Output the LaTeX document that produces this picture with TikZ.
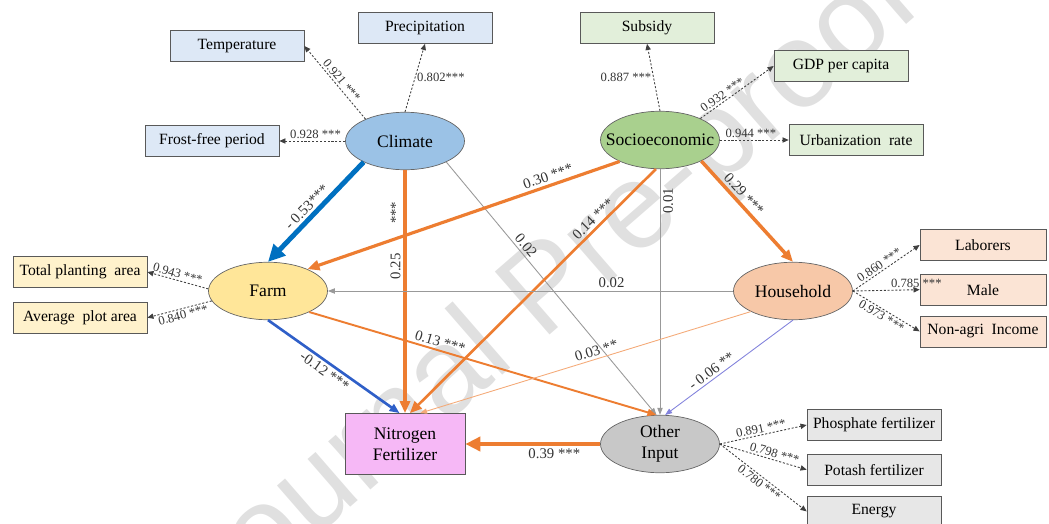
\documentclass[tikz,border=0pt]{standalone}
\usepackage{fontspec}
\setmainfont{Liberation Serif}
\newfontfamily\wmfont{Liberation Sans}
\usetikzlibrary{positioning}
\usetikzlibrary{shapes.geometric}
\usetikzlibrary{arrows.meta}

\definecolor{climfill}{RGB}{155,194,230}
\definecolor{sociofill}{RGB}{169,208,142}
\definecolor{farmfill}{RGB}{255,230,153}
\definecolor{hhfill}{RGB}{247,200,168}
\definecolor{othfill}{RGB}{200,200,200}
\definecolor{nitfill}{RGB}{246,184,246}
\definecolor{climbox}{RGB}{221,232,246}
\definecolor{sociobox}{RGB}{226,239,218}
\definecolor{farmbox}{RGB}{255,242,204}
\definecolor{hhbox}{RGB}{251,228,213}
\definecolor{othbox}{RGB}{231,231,231}
\definecolor{orangeline}{RGB}{237,125,49}
\definecolor{lightorange}{RGB}{244,170,120}
\definecolor{blueline}{RGB}{0,112,192}
\definecolor{blueline2}{RGB}{47,95,200}
\definecolor{purpleline}{RGB}{130,130,220}

\newcommand{\zw}[1]{\makebox[0pt]{#1}}

\begin{document}
\begin{tikzpicture}[x=0.02cm, y=-0.02cm,
      lat/.style={ellipse, draw=black!60, minimum width=2.38cm, minimum height=1.15cm, inner sep=0pt, font=\fontsize{10}{12}\selectfont},
      ind/.style={rectangle, draw=black!65, minimum width=2.68cm, minimum height=0.62cm, inner sep=0pt, font=\fontsize{8.9}{10}\selectfont},
      nbox/.style={rectangle, draw=black!65, fill=nitfill, minimum width=2.4cm, minimum height=1.22cm, align=center, font=\fontsize{10}{12}\selectfont},
      opath/.style={draw=orangeline, -{Triangle[length=0.24cm,width=0.2cm]}},
      bpath/.style={draw=blueline, -{Triangle[length=0.24cm,width=0.2cm]}},
      gpath/.style={draw=black!40, line width=0.5pt, -{Triangle[length=4pt,width=3pt]}},
      load/.style={draw=black!75, line width=0.5pt, dash pattern=on 1.2pt off 1pt, -{Triangle[length=3.5pt,width=3pt]}},
      coef/.style={font=\fontsize{8.4}{9}\selectfont, text=black!80, inner sep=1.5pt},
      ldg/.style={font=\fontsize{7.2}{8}\selectfont, text=black!80, inner sep=1pt},
      wm/.style={font=\wmfont\fontsize{69}{69}\selectfont, text=black!12, rotate=41},
    ]
    \useasboundingbox (0,0) rectangle (1049,524);
    \node[wm] (wmark) at (550,293) {Journal Pre-proof};

    \node[lat, fill=climfill] (clim) at (405,141) {\zw{Climate}};
    \node[lat, fill=sociofill] (socio) at (660,140) {\zw{Socioeconomic}};
    \node[lat, fill=farmfill] (farm) at (268,291) {\zw{Farm}};
    \node[lat, fill=hhfill] (hh) at (793,291) {\zw{Household}};
    \node[lat, fill=othfill, align=center] (oth) at (660,444) {\zw{Other}\\\zw{Input}};
    \node[nbox] (nit) at (405,444) {Nitrogen\\Fertilizer};

    \node[ind, fill=climbox] (temp) at (237,46) {Temperature};
    \node[ind, fill=climbox] (prec) at (425,28) {Precipitation};
    \node[ind, fill=climbox] (frost) at (212,141) {Frost-free period};
    \node[ind, fill=sociobox] (subs) at (647,28) {Subsidy};
    \node[ind, fill=sociobox] (gdp) at (841,66) {GDP per capita};
    \node[ind, fill=sociobox] (urb) at (856,140) {Urbanization\ \ rate};
    \node[ind, fill=farmbox] (tpa) at (80,272) {Total planting\ \ area};
    \node[ind, fill=farmbox, below=0.28cm of tpa] (apa) {Average\ \ plot area};
    \node[ind, fill=hhbox, minimum width=2.52cm] (lab) at (983,245) {Laborers};
    \node[ind, fill=hhbox, minimum width=2.52cm, below=0.26cm of lab] (male) {Male};
    \node[ind, fill=hhbox, minimum width=2.52cm, below=0.2cm of male] (inc) {Non-agri\ \ Income};
    \node[ind, fill=othbox] (phos) at (874,425) {Phosphate fertilizer};
    \node[ind, fill=othbox, below=0.26cm of phos] (pot) {Potash fertilizer};
    \node[ind, fill=othbox, below=0.2cm of pot] (ener) {Energy};

    \draw[bpath, line width=2.8pt, -{Triangle[length=0.34cm,width=0.32cm]}] (clim.207) -- (farm.north)
        node[coef, sloped, above, pos=.52] {- 0.53***};
    \draw[opath, line width=1.9pt] (clim.south) -- (nit.north)
        node[coef, rotate=90, above, pos=.29] {0.25\hspace{2em}***};
    \draw[gpath] (clim.-27) -- (oth.97)
        node[coef, sloped, above, pos=.35] {0.02};
    \draw[opath, line width=1.8pt] (socio.208) -- (farm.29)
        node[coef, sloped, above, pos=.22] {0.30 ***};
    \draw[opath, line width=1.5pt] (socio.262) -- (nit.81)
        node[coef, sloped, above, pos=.23] {0.14 ***};
    \draw[gpath] (socio.south) -- (oth.north)
        node[coef, rotate=90, below, pos=.13] {0.01};
    \draw[opath, line width=2pt] (socio.-27) -- (hh.north)
        node[coef, sloped, above, pos=.39] {0.29 ***};
    \draw[gpath] (hh.west) -- (farm.east)
        node[coef, above, pos=.3] {0.02};
    \draw[bpath, draw=blueline2, line width=1.5pt, -{Triangle[length=0.2cm,width=0.16cm]}] (farm.south) -- (nit.100)
        node[coef, sloped, below, pos=.47] {-0.12 ***};
    \draw[opath, line width=1.1pt, -{Triangle[length=0.18cm,width=0.14cm]}] (farm.-27) -- (oth.97)
        node[coef, sloped, above, pos=.37] {0.13 ***};
    \draw[opath, draw=lightorange, line width=0.5pt, -{Triangle[length=4pt,width=3pt]}] (hh.206) -- (nit.64)
        node[coef, sloped, above, pos=.46] {0.03 **};
    \draw[gpath, draw=purpleline] (hh.south) -- (oth.80)
        node[coef, sloped, above, pos=.6] {- 0.06 **};
    \draw[opath, line width=2.8pt, -{Triangle[length=0.3cm,width=0.28cm]}] (oth.west) -- (nit.east)
        node[coef, below, pos=.34] {0.39 ***};

    \draw[load] (clim.151) -- (temp.east) node[ldg, sloped, above, pos=.47] {0.921 ***};
    \draw[load] (clim.north) -- (prec.south) node[ldg, right, pos=.5] {0.802***};
    \draw[load] (clim.west) -- (frost.east) node[ldg, above, pos=.45] {0.928 ***};
    \draw[load] (socio.north) -- (subs.south) node[ldg, left, pos=.5] {0.887 ***};
    \draw[load] (socio.28) -- (gdp.west) node[ldg, sloped, above, pos=.35] {0.932 ***};
    \draw[load] (socio.east) -- (urb.west) node[ldg, above, pos=.45] {0.944 ***};
    \draw[load] (farm.178) -- (tpa.east) node[ldg, sloped, above, pos=.53] {0.943 ***};
    \draw[load] (farm.190) -- (apa.east) node[ldg, sloped, below, pos=.47] {0.840 ***};
    \draw[load] (hh.east) -- (lab.west) node[ldg, sloped, above, pos=.45] {0.860 ***};
    \draw[load] (hh.east) -- (male.west) node[ldg, above, pos=.95] {0.785 ***};
    \draw[load] (hh.east) -- (inc.west) node[ldg, sloped, below, pos=.48] {0.973 ***};
    \draw[load] (oth.east) -- (phos.west) node[ldg, sloped, above, pos=.49] {0.891 ***};
    \draw[load] (oth.east) -- (pot.west) node[ldg, sloped, above, pos=.61] {0.798 ***};
    \draw[load] (oth.east) -- (ener.west) node[ldg, sloped, below, pos=.5] {0.780 ***};
\end{tikzpicture}
\end{document}
